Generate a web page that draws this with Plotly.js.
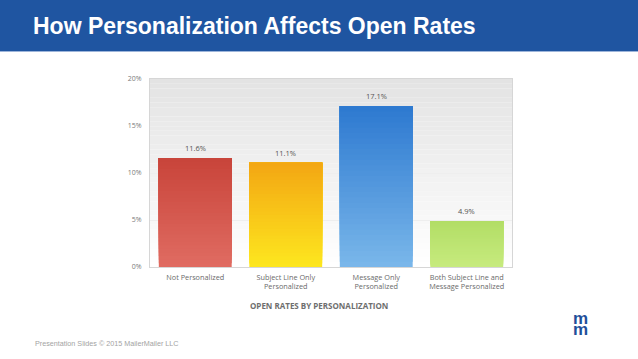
<!DOCTYPE html>
<html>
<head>
<meta charset="utf-8">
<script src="https://cdn.plot.ly/plotly-3.0.1.min.js"></script>
<style>html,body{margin:0;padding:0;background:#fff;}#chart{width:638px;height:359px;}</style>
</head>
<body>
<div id="chart"></div>
<script>
// ---- Data ----
const categories = [
  "Not Personalized",
  "Subject Line Only<br>Personalized",
  "Message Only<br>Personalized",
  "Both Subject Line and<br>Message Personalized"
];
const openRates = [11.6, 11.1, 17.1, 4.9];
const valueLabels = ["11.6%", "11.1%", "17.1%", "4.9%"];
const yTickVals = [0, 5, 10, 15, 20];
const yTickText = ["0%", "5%", "10%", "15%", "20%"];
const chartTitle = "How Personalization Affects Open Rates";
const axisTitle = "OPEN RATES BY PERSONALIZATION";
const footerText = "Presentation Slides \u00a9 2015 MailerMailer LLC";
const logoLetters = ["m", "m"];

// ---- Styles ----
const topColors = ["#c8443a", "#f3a613", "#2d79d0", "#b2dd66"];
const bottomColors = ["#e06c62", "#fde71f", "#7ab7ea", "#c7eb7e"];

function hex2rgb(h){h=h.replace('#','');return [0,2,4].map(i=>parseInt(h.substr(i,2),16));}
function mix(a,b,t){const A=hex2rgb(a),B=hex2rgb(b);return 'rgb('+A.map((v,i)=>Math.round(v+(B[i]-v)*t)).join(',')+')';}

// plot area in pixels
const PL=150, PR=512, PT=79, PB=267, W=638, H=359;
const px2x = p => (p-PL)/(PR-PL);
const px2y = p => (PB-p)/(PB-PT);

// gradient bars: overlaid segments, each from a fraction of the value up to the value
const N = 30;
const traces = [];
for (let i=0;i<N;i++){
  const f = i/N;
  const t = (i+0.5)/N;
  traces.push({
    type:'bar',
    x: categories,
    base: openRates.map(v=>v*f),
    y: openRates.map(v=>v*(1-f)),
    marker:{color: categories.map((c,k)=>mix(bottomColors[k], topColors[k], t)), line:{width:0}},
    hoverinfo: i===0 ? 'x+y' : 'skip',
    showlegend:false
  });
}

// plot background gradient
const shapes = [];
const NB = 40;
for (let i=0;i<NB;i++){
  shapes.push({type:'rect', xref:'paper', yref:'paper', x0:0, x1:1, y0:i/NB, y1:(i+1)/NB,
    fillcolor: mix('#ffffff', '#e3e3e3', (i+0.5)/NB), line:{width:0}, layer:'below'});
}
// header band
shapes.push({type:'rect', xref:'paper', yref:'paper', x0:px2x(0), x1:px2x(W), y0:px2y(51), y1:px2y(0),
  fillcolor:'#1f55a1', line:{width:0}, layer:'above'});
shapes.push({type:'line', xref:'paper', yref:'paper', x0:px2x(0), x1:px2x(W), y0:px2y(51.5), y1:px2y(51.5),
  line:{color:'#9db5da', width:1}, layer:'above'});

const annotations = [];
categories.forEach((c,k)=>{
  annotations.push({x:c, y:openRates[k], xref:'x', yref:'y', text:valueLabels[k], showarrow:false,
    yanchor:'bottom', yshift:3, font:{family:'Open Sans, DejaVu Sans, sans-serif', size:7.5, color:'#555555'}});
});
annotations.push({x:px2x(319), y:px2y(305), xref:'paper', yref:'paper', text:'<b>'+axisTitle+'</b>', showarrow:false,
  xanchor:'center', yanchor:'middle', font:{family:'Open Sans, DejaVu Sans, sans-serif', size:8, color:'#6e6e6e'}});
annotations.push({x:px2x(33), y:px2y(343), xref:'paper', yref:'paper', text:footerText, showarrow:false,
  xanchor:'left', yanchor:'middle', font:{family:'Liberation Sans, Arial, sans-serif', size:7.2, color:'#a3a3a3'}});
const logoY = [318, 329.5];
logoLetters.forEach((l,k)=>{
  annotations.push({x:px2x(580.5), y:px2y(logoY[k]), xref:'paper', yref:'paper', text:'<b>'+l+'</b>', showarrow:false,
    xanchor:'center', yanchor:'middle',
    font:{family:'Liberation Sans, Arial, sans-serif', size:17, color:'#1f4f9a'}});
});

const layout = {
  width:W, height:H,
  margin:{l:PL, r:W-PR, t:PT, b:H-PB, pad:0},
  paper_bgcolor:'#ffffff', plot_bgcolor:'#ffffff',
  barmode:'overlay', bargap:0.195,
  title:{text:chartTitle, xref:'container', yref:'container', x:33/W, xanchor:'left', y:1-25.5/H, yanchor:'middle',
    font:{family:'Liberation Sans, Arial, sans-serif', size:23, color:'#ffffff', weight:700}},
  xaxis:{type:'category', showgrid:false, zeroline:false, showline:true, mirror:true, linecolor:'#d6d6d6', linewidth:1,
    ticks:'', ticklabelstandoff:3, tickfont:{family:'Open Sans, DejaVu Sans, sans-serif', size:7.3, color:'#6a6a6a'}, fixedrange:true},
  yaxis:{range:[0,20], tickvals:yTickVals, ticktext:yTickText, showgrid:true, gridcolor:'#eeeeee', gridwidth:1,
    zeroline:false, showline:true, mirror:true, linecolor:'#d6d6d6', linewidth:1, ticks:'', ticklabelstandoff:6,
    tickfont:{family:'Open Sans, DejaVu Sans, sans-serif', size:7, color:'#7a7a7a'}, fixedrange:true},
  shapes:shapes,
  annotations:annotations
};

Plotly.newPlot('chart', traces, layout, {displayModeBar:false, staticPlot:true});
</script>
</body>
</html>
